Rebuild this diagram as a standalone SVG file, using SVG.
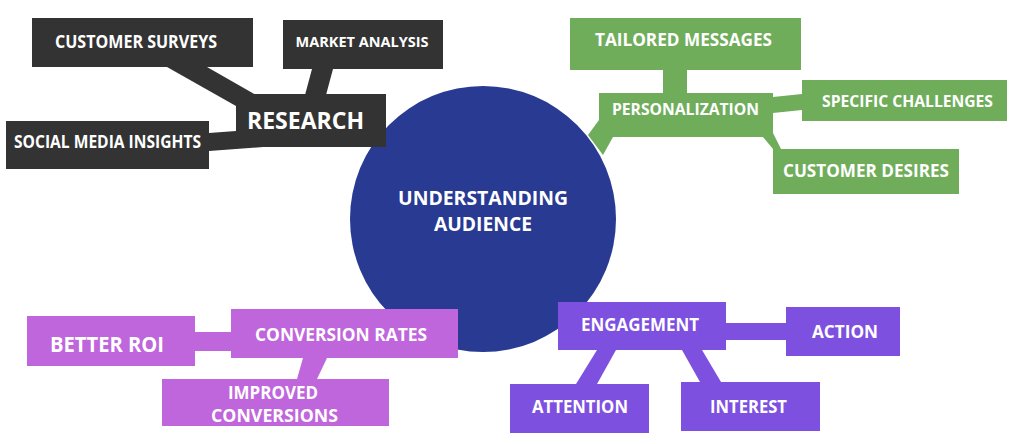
<svg xmlns="http://www.w3.org/2000/svg" width="1024" height="444" viewBox="0 0 1024 444">
<style>
.t{font-family:"Open Sans","Liberation Sans",sans-serif;font-weight:700;fill:#ffffff;text-anchor:middle}
.dk{fill:#333333}
.gr{fill:#6fad5b}
.mg{fill:#bf66dc}
.vi{fill:#7e50e0}
</style>
<rect width="1024" height="444" fill="#ffffff"/>
<g id="center">
<circle cx="483" cy="219" r="133" fill="#283a92"/>
<text class="t" x="483" y="205" font-size="20" textLength="170" lengthAdjust="spacingAndGlyphs">UNDERSTANDING</text>
<text class="t" x="483" y="231" font-size="20" textLength="98" lengthAdjust="spacingAndGlyphs">AUDIENCE</text>
</g>
<g id="connectors">
<polygon class="dk" points="167,67 207,67 256,95 236,106"/>
<polygon class="dk" points="312,69 333,69 326,95 305,95"/>
<polygon class="dk" points="209,133 236,131 263,147 209,151"/>
<polygon class="gr" points="663,70 687,70 687,93 663,93"/>
<polygon class="gr" points="773,97 802,94 802,110 773,113"/>
<polygon class="gr" points="763,137 773,133 781,149 773,149"/>
<polygon class="gr" points="599,120 613,137 603,155 588,135"/>
<polygon class="mg" points="195,332 231,332 231,351 195,351"/>
<polygon class="mg" points="303,358 327,358 317,379 297,379"/>
<polygon class="vi" points="726,323 786,323 786,340 726,340"/>
<polygon class="vi" points="597,350 616,350 597,384 576,384"/>
<polygon class="vi" points="682,350 702,350 721,382 700,382"/>
</g>
<g id="customer-surveys">
<rect class="dk" x="32" y="18" width="221" height="49"/>
<text class="t" x="136" y="48" font-size="18" textLength="162" lengthAdjust="spacingAndGlyphs">CUSTOMER SURVEYS</text>
</g>
<g id="market-analysis">
<rect class="dk" x="283" y="20" width="160" height="49"/>
<text class="t" x="362" y="47" font-size="14" textLength="133" lengthAdjust="spacingAndGlyphs">MARKET ANALYSIS</text>
</g>
<g id="research">
<rect class="dk" x="236" y="94" width="150" height="53"/>
<text class="t" x="305.5" y="129" font-size="24" textLength="117" lengthAdjust="spacingAndGlyphs">RESEARCH</text>
</g>
<g id="social-media-insights">
<rect class="dk" x="6" y="121" width="203" height="48"/>
<text class="t" x="107.5" y="148" font-size="18" textLength="187" lengthAdjust="spacingAndGlyphs">SOCIAL MEDIA INSIGHTS</text>
</g>
<g id="tailored-messages">
<rect class="gr" x="570" y="18" width="231" height="52"/>
<text class="t" x="683.5" y="46" font-size="18" textLength="177" lengthAdjust="spacingAndGlyphs">TAILORED MESSAGES</text>
</g>
<g id="personalization">
<rect class="gr" x="599" y="93" width="174" height="44"/>
<text class="t" x="685.5" y="115" font-size="16" textLength="147" lengthAdjust="spacingAndGlyphs">PERSONALIZATION</text>
</g>
<g id="specific-challenges">
<rect class="gr" x="802" y="80" width="205" height="41"/>
<text class="t" x="907.5" y="107" font-size="16" textLength="171" lengthAdjust="spacingAndGlyphs">SPECIFIC CHALLENGES</text>
</g>
<g id="customer-desires">
<rect class="gr" x="773" y="149" width="186" height="45"/>
<text class="t" x="866" y="177" font-size="18" textLength="166" lengthAdjust="spacingAndGlyphs">CUSTOMER DESIRES</text>
</g>
<g id="better-roi">
<rect class="mg" x="27" y="316" width="168" height="50"/>
<text class="t" x="107" y="352" font-size="21" textLength="114" lengthAdjust="spacingAndGlyphs">BETTER ROI</text>
</g>
<g id="conversion-rates">
<rect class="mg" x="231" y="309" width="227" height="49"/>
<text class="t" x="341" y="341" font-size="17" textLength="172" lengthAdjust="spacingAndGlyphs">CONVERSION RATES</text>
</g>
<g id="improved-conversions">
<rect class="mg" x="162" y="379" width="227" height="47"/>
<text class="t" x="273" y="399" font-size="18" textLength="90" lengthAdjust="spacingAndGlyphs">IMPROVED</text>
<text class="t" x="274.5" y="422" font-size="18" textLength="127" lengthAdjust="spacingAndGlyphs">CONVERSIONS</text>
</g>
<g id="engagement">
<rect class="vi" x="558" y="302" width="168" height="48"/>
<text class="t" x="640" y="331" font-size="18" textLength="118" lengthAdjust="spacingAndGlyphs">ENGAGEMENT</text>
</g>
<g id="action">
<rect class="vi" x="786" y="307" width="114" height="49"/>
<text class="t" x="845" y="338" font-size="18" textLength="66" lengthAdjust="spacingAndGlyphs">ACTION</text>
</g>
<g id="attention">
<rect class="vi" x="510" y="384" width="139" height="49"/>
<text class="t" x="580" y="413" font-size="18" textLength="96" lengthAdjust="spacingAndGlyphs">ATTENTION</text>
</g>
<g id="interest">
<rect class="vi" x="681" y="382" width="139" height="49"/>
<text class="t" x="748.5" y="413" font-size="18" textLength="77" lengthAdjust="spacingAndGlyphs">INTEREST</text>
</g>
</svg>
